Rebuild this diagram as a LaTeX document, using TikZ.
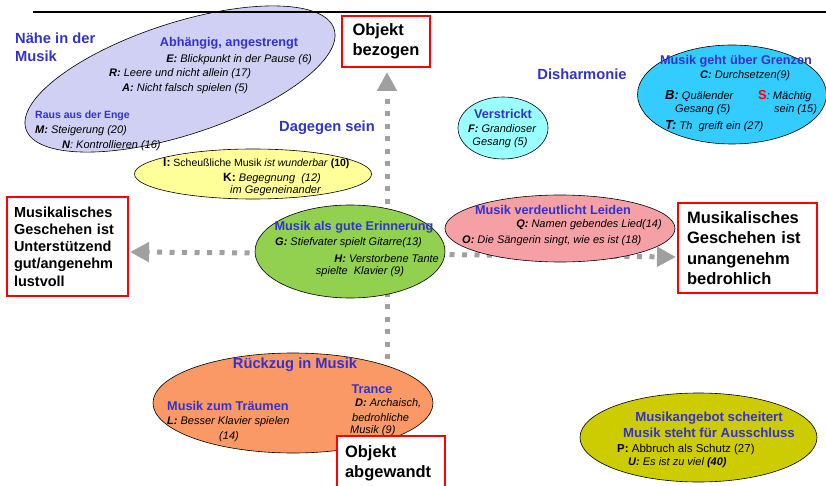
\documentclass[tikz,border=0pt]{standalone}
\usepackage{fontspec}
\setmainfont{Liberation Sans}
\usetikzlibrary{shapes.geometric,arrows.meta}

\definecolor{hblue}{RGB}{51,51,204}
\definecolor{lav}{RGB}{208,208,244}
\definecolor{lightyellow}{RGB}{255,255,153}
\definecolor{leafgreen}{RGB}{146,208,80}
\definecolor{rosepink}{RGB}{245,160,165}
\definecolor{apricot}{RGB}{250,153,102}
\definecolor{palecyan}{RGB}{153,255,255}
\definecolor{skycyan}{RGB}{51,204,255}
\definecolor{olive}{RGB}{204,204,0}
\definecolor{arrowgray}{RGB}{160,160,160}

\tikzset{
  blob/.style={ellipse, draw=black, line width=0.6pt, inner sep=0pt},
  sm/.style={font=\fontsize{11}{14}\selectfont\itshape, inner sep=0pt},
  smup/.style={font=\fontsize{10.5}{13}\selectfont, inner sep=0pt},
  hd/.style={font=\fontsize{12.7}{15}\selectfont\bfseries, text=hblue, inner sep=0pt},
  subhd/.style={font=\fontsize{10.5}{13}\selectfont\bfseries, text=hblue, inner sep=0pt},
  bighd/.style={font=\fontsize{14.7}{18.5}\selectfont\bfseries, text=hblue, inner sep=0pt, align=left},
  redbox/.style={rectangle, draw=red, line width=2pt, fill=white, align=left, inner ysep=0pt},
  flow/.style={draw=arrowgray, line width=5pt, dash pattern=on 5pt off 7.5pt},
  flowtip/.style={flow, -{Triangle[length=19pt,width=19pt,fill=arrowgray]}},
}

\begin{document}
\begin{tikzpicture}[x=1pt,y=-1pt]
\useasboundingbox (0,0) rectangle (826,486);

% axes of the diagram
\coordinate (c) at (387,254);
\coordinate (tipN) at (387,72);
\coordinate (tipW) at (130,252);
\coordinate (tipE) at (676,257);
\coordinate (tipS) at (387,440);
\draw[flowtip] (c) -- (tipN);
\draw[flowtip] (c) -- (tipW);
\draw[flowtip] (c) -- (tipE);
\draw[flow] (c) -- (tipS);

% clusters
\node[blob, fill=lav, minimum width=324, minimum height=112, rotate=18] (naehe) at (180,79) {};
\node[blob, fill=lightyellow, minimum width=237, minimum height=50] (scheuss) at (253,174) {};
\node[blob, fill=palecyan, minimum width=90, minimum height=62] (verstrickt) at (503,128) {};
\node[blob, fill=skycyan, minimum width=189, minimum height=99] (grenzen) at (732,94.5) {};
\node[blob, fill=leafgreen, minimum width=190, minimum height=93] (erinnerung) at (350,251.5) {};
\node[blob, fill=rosepink, minimum width=230, minimum height=67] (leiden) at (560,228.5) {};
\node[blob, fill=apricot, minimum width=280, minimum height=100] (rueckzug) at (293,403) {};
\node[blob, fill=olive, minimum width=237, minimum height=89] (scheitert) at (698.5,437.5) {};

% Naehe in der Musik
\node[bighd, anchor=west] (tNaehe) at (15,47) {Nähe in der\\Musik};
\node[hd] (tAbh) at (229,43) {Abhängig, angestrengt};
\node[sm, anchor=east] (tE) at (312,60) {\textbf{E:} Blickpunkt in der Pause (6)};
\node[sm, anchor=west] (tR) at (109,74) {\textbf{R:} Leere und nicht allein (17)};
\node[sm, anchor=west] (tA) at (122,89) {\textbf{A:} Nicht falsch spielen (5)};
\node[subhd, anchor=west] (tRaus) at (35,116) {Raus aus der Enge};
\node[sm, anchor=west] (tM) at (35,131) {\textbf{M:} Steigerung (20)};
\node[sm, anchor=west] (tN) at (62,146) {\textbf{N}: Kontrollieren (16)};

\node[bighd] (tDagegen) at (327,128) {Dagegen sein};
\node[bighd] (tDis) at (582,74) {Disharmonie};

% yellow cluster
\node[smup, anchor=west] (tI) at (163,163) {{\fontsize{12}{14}\selectfont\bfseries I:} Scheußliche Musik \textit{ist wunderbar} \textbf{(10)}};
\node[sm, anchor=west] (tK) at (223,179) {{\upshape\fontsize{12}{14}\selectfont\bfseries K:} Begegnung\ \ (12)};
\node[sm, anchor=west] (tK2) at (230,191) {im Gegeneinander};

% Verstrickt
\node[hd] (tVer) at (503,114) {Verstrickt};
\node[sm] (tF) at (502,129) {\textbf{F:} Grandioser};
\node[sm] (tF2) at (500,143) {Gesang (5)};

% Musik geht ueber Grenzen
\node[hd] (tGren) at (736,61) {Musik geht über Grenzen};
\node[sm, anchor=west] (tC) at (700,76) {\textbf{C:} Durchsetzen(9)};
\node[sm, anchor=west] (tB) at (665,96) {{\fontsize{13}{14}\selectfont\bfseries B:} Quälender};
\node[sm, anchor=west] (tB2) at (675,110) {Gesang (5)};
\node[sm, anchor=west] (tS) at (758,96) {{\upshape\fontsize{13}{14}\selectfont\bfseries\color{red}S}: Mächtig};
\node[sm, anchor=west] (tS2) at (774,110) {sein (15)};
\node[sm, anchor=west] (tT) at (665,126) {{\fontsize{13}{14}\selectfont\bfseries T:} Th\ \ greift ein (27)};

% Musik als gute Erinnerung
\node[hd] (tErin) at (354,227) {Musik als gute Erinnerung};
\node[sm, anchor=west] (tG) at (275,243) {\textbf{G:} Stiefvater spielt Gitarre(13)};
\node[sm, anchor=east] (tH) at (439,259) {\textbf{H:} Verstorbene Tante};
\node[sm] (tH2) at (360,272) {spielte\ \ Klavier (9)};

% Musik verdeutlicht Leiden
\node[hd] (tLeid) at (553,210) {Musik verdeutlicht Leiden};
\node[sm, anchor=east] (tQ) at (662,225) {\textbf{Q:} Namen gebendes Lied(14)};
\node[sm, anchor=west] (tO) at (462,241) {\textbf{O:} Die Sängerin singt, wie es ist (18)};

% Rueckzug in Musik
\node[bighd] (tRueck) at (295,365) {Rückzug in Musik};
\node[hd] (tTrance) at (372,389) {Trance};
\node[hd, anchor=west] (tTraum) at (167,406) {Musik zum Träumen};
\node[sm, anchor=west] (tL) at (167,422) {\textbf{L:} Besser Klavier spielen};
\node[sm] (tL2) at (229,437) {(14)};
\node[sm, anchor=west] (tD) at (355,403) {\textbf{D:} Archaisch,};
\node[sm, anchor=west] (tD2) at (352,418) {bedrohliche};
\node[sm, anchor=west] (tD3) at (350,431) {Musik (9)};

% Musikangebot scheitert
\node[hd, font=\fontsize{13.2}{16}\selectfont\bfseries, align=center] (tScheit) at (709,425) {Musikangebot scheitert\\Musik steht für Ausschluss};
\node[smup, font=\fontsize{11.5}{14}\selectfont, anchor=west] (tP) at (617,450) {\textbf{P:} Abbruch als Schutz (27)};
\node[sm, anchor=west] (tU) at (628,463) {\textbf{U:} Es ist zu viel \textbf{(40)}};

% poles of the axes
\node[redbox, minimum width=88, minimum height=51, inner xsep=9pt, font=\fontsize{16.5}{20.5}\selectfont\bfseries] (objB) at (386,41.5) {Objekt\\bezogen};
\node[redbox, minimum width=108, minimum height=54, inner xsep=8pt, text width=92, font=\fontsize{16.5}{20}\selectfont\bfseries] (objA) at (391,463) {Objekt\\abgewandt};
\node[redbox, minimum width=121, minimum height=99, inner xsep=7pt, text width=107, font=\fontsize{14.5}{17.2}\selectfont\bfseries] (gut) at (67.5,246.5) {Musikalisches\\Geschehen ist\\Unterstützend\\gut/angenehm\\lustvoll};
\node[redbox, minimum width=139, minimum height=90, inner xsep=9pt, text width=121, font=\fontsize{16.5}{20.3}\selectfont\bfseries] (schlecht) at (747.5,248) {Musikalisches\\Geschehen ist\\unangenehm\\bedrohlich};

% rule across the top
\coordinate (ruleL) at (33,12);
\coordinate (ruleR) at (826,12);
\draw[line width=1.1pt] (ruleL) -- (ruleR);
\end{tikzpicture}
\end{document}
